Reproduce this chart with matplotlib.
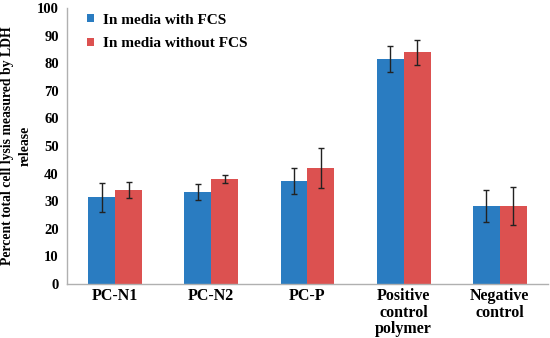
import matplotlib
matplotlib.use("Agg")
import matplotlib.pyplot as plt
import numpy as np

categories = ["PC-N1", "PC-N2", "PC-P", "Positive\ncontrol\npolymer", "Negative\ncontrol"]
with_fcs = [31.4, 33.4, 37.2, 81.4, 28.2]
with_fcs_err = [5.3, 2.8, 4.7, 4.7, 5.8]
without_fcs = [34.2, 38.1, 42.1, 84.0, 28.2]
without_fcs_err = [2.9, 1.5, 7.2, 4.5, 7.0]
series_names = ["In media with FCS", "In media without FCS"]
yticks = list(range(0, 101, 10))

plt.rcParams['font.family'] = ['Liberation Serif', 'DejaVu Serif']
plt.rcParams['font.weight'] = 'bold'

fig = plt.figure(figsize=(5.5, 3.38), dpi=100)
ax = fig.add_axes([0.122, 0.160, 0.874, 0.816])

x = np.arange(len(categories))
w = 0.28
blue = "#2a7cc1"
red = "#dc5150"
ekw = dict(ecolor="#222222", elinewidth=1.0, capsize=2.5, capthick=1.0)
ax.bar(x - w/2, with_fcs, w, color=blue, label=series_names[0],
       yerr=with_fcs_err, error_kw=ekw)
ax.bar(x + w/2, without_fcs, w, color=red, label=series_names[1],
       yerr=without_fcs_err, error_kw=ekw)

ax.set_xlim(-0.5, len(categories) - 0.5)
ax.set_ylim(0, 100)
ax.set_yticks(yticks)
ax.set_yticklabels([str(t) for t in yticks], fontsize=10.5, fontweight='bold')
ax.set_xticks(x)
ax.set_xticklabels(categories, fontsize=11.5, fontweight='bold', linespacing=1.05)
ax.tick_params(length=0, pad=6)
ax.tick_params(axis='x', pad=3)
for s in ['top', 'right']:
    ax.spines[s].set_visible(False)
for s in ['left', 'bottom']:
    ax.spines[s].set_color("#b0b0b0")
    ax.spines[s].set_linewidth(1.0)

ax.set_ylabel("Percent total cell lysis measured by LDH\nrelease", fontsize=9.9,
              fontweight='bold', linespacing=1.4, labelpad=4)

leg = ax.legend(loc='upper left', bbox_to_anchor=(0.042, 0.98), frameon=False,
                handlelength=0.45, handleheight=0.45, handletextpad=0.55,
                labelspacing=0.7, borderpad=0, borderaxespad=0,
                prop={'weight': 'bold', 'size': 11})

fig.savefig("out.png", dpi=100)
